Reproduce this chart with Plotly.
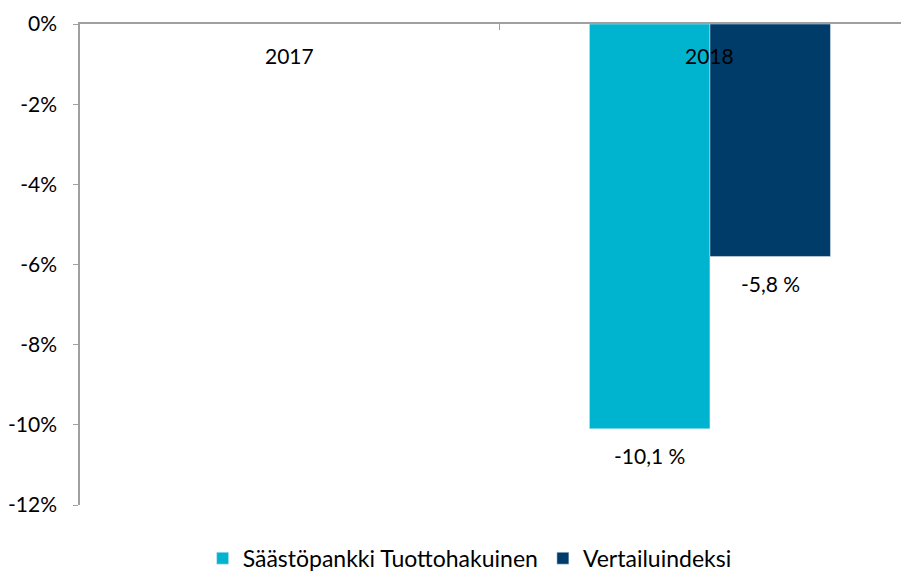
import plotly.graph_objects as go

years = ["2017", "2018"]
fund_returns = [None, -10.1]
index_returns = [None, -5.8]
series_names = ["Säästöpankki Tuottohakuinen", "Vertailuindeksi"]
colors = ["#00b4d0", "#003c69"]
y_ticks = [0, -2, -4, -6, -8, -10, -12]
y_tick_labels = ["0%", "-2%", "-4%", "-6%", "-8%", "-10%", "-12%"]

FONT = "Lato, Roboto, sans-serif"
BARGAP = 0.426


def fmt(v):
    return f"{v:.1f} %".replace(".", ",")


fig = go.Figure()
all_series = [fund_returns, index_returns]
n = len(all_series)
bar_w = (1 - BARGAP) / n
for k, (name, vals, col) in enumerate(zip(series_names, all_series, colors)):
    fig.add_trace(go.Bar(x=years, y=vals, name=name, marker_color=col))
    # data labels below the bar ends
    for i, v in enumerate(vals):
        if v is None:
            continue
        fig.add_annotation(
            x=i - (1 - BARGAP) / 2 + bar_w * (k + 0.5), y=v, xref="x", yref="y",
            text=fmt(v), showarrow=False, yanchor="middle", yshift=-27,
            font=dict(size=21, color="#000000", family=FONT),
        )

# category labels just under the zero line
for i, yr in enumerate(years):
    fig.add_annotation(
        x=i, y=0, xref="x", yref="y", text=yr, showarrow=False,
        yanchor="middle", yshift=-31,
        font=dict(size=21, color="#000000", family=FONT),
    )

# the page body has an 8px margin, so the figure is nudged up/left
fig.update_layout(
    width=909, height=574,
    margin=dict(l=72, r=8, t=16, b=77, autoexpand=False),
    paper_bgcolor="white", plot_bgcolor="white",
    barmode="group", bargap=BARGAP, bargroupgap=0,
    font=dict(family=FONT, size=21, color="#000000"),
    showlegend=True,
    legend=dict(orientation="h", x=0.47, xanchor="center", y=-0.066, yanchor="top",
                font=dict(size=23, color="#000000"), traceorder="normal"),
)
fig.update_xaxes(
    side="top", showticklabels=False, range=[-0.5, 1.474], automargin=False,
    showline=True, linecolor="#a0a0a0", linewidth=1.5,
    ticks="inside", tickson="boundaries", ticklen=6, tickcolor="#a0a0a0",
    showgrid=False,
)
fig.update_yaxes(
    range=[-12, 0], tickvals=y_ticks, ticktext=y_tick_labels, automargin=False,
    showline=True, linecolor="#a0a0a0", linewidth=1.5,
    ticks="outside", ticklen=5, tickcolor="#a0a0a0", ticklabelstandoff=12,
    showgrid=False, zeroline=False,
    tickfont=dict(size=21, color="#000000", family=FONT),
)

fig.write_html("out.html")
